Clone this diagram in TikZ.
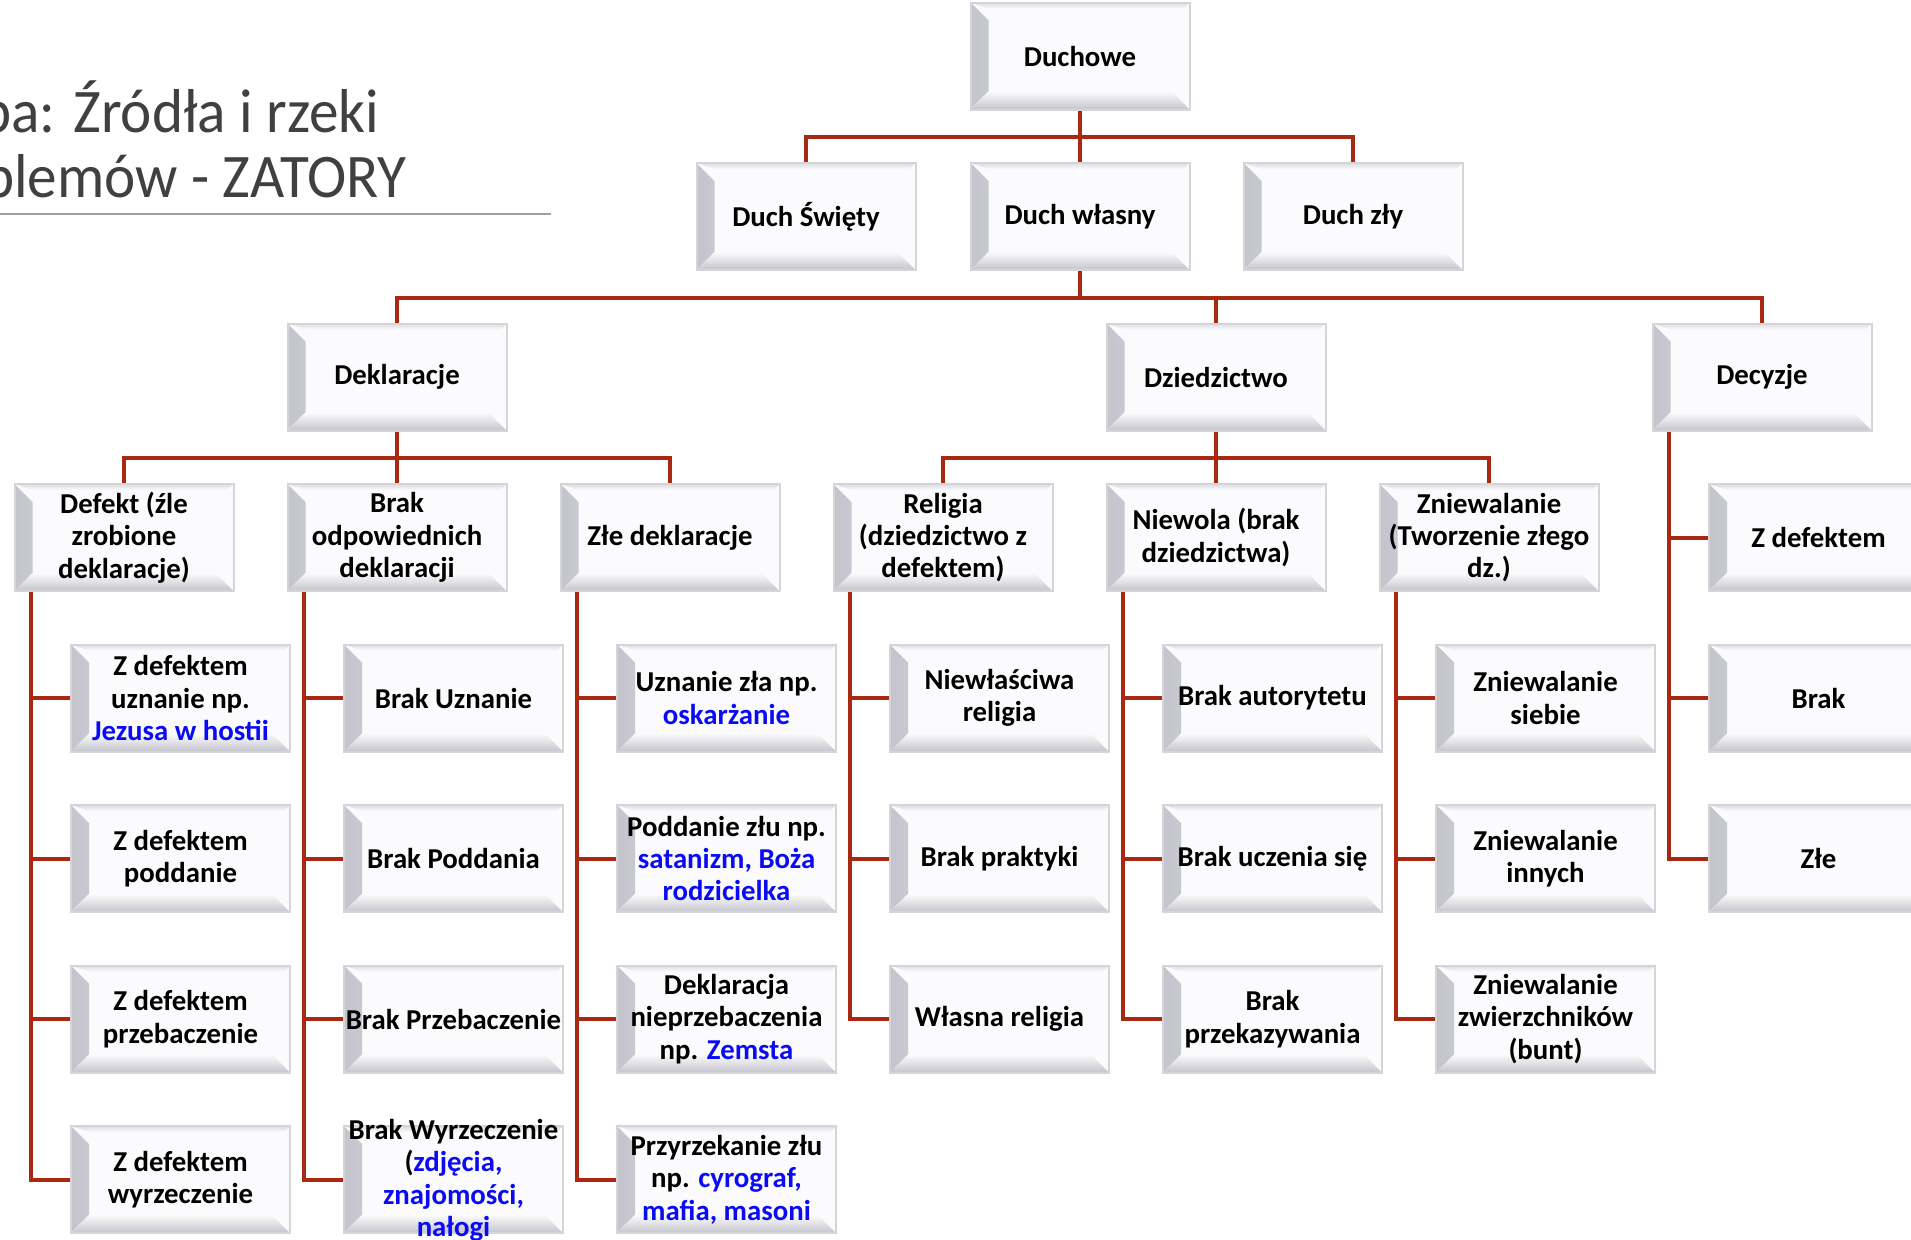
\documentclass[tikz,border=0pt]{standalone}
\usepackage{fontspec}
\setmainfont{Carlito}
\newfontfamily\boxfont{Carlito}
\newfontfamily\titlefont[FakeStretch=0.955]{Carlito}
\usetikzlibrary{calc}
\definecolor{conncol}{RGB}{168,40,18}
\definecolor{boxfill}{RGB}{251,251,253}
\definecolor{boxedge}{RGB}{212,212,217}
\definecolor{bevdark}{RGB}{196,196,205}
\definecolor{titlecol}{RGB}{64,64,64}
\definecolor{rulecol}{RGB}{160,160,160}
\definecolor{linkblue}{RGB}{10,10,245}
\newcommand\bl[1]{\textcolor{linkblue}{#1}}
\newcommand\bevelpic{%
  \fill[left color=bevdark, right color=boxfill]
    (path picture bounding box.north west)
    -- ([shift={(9pt,-9pt)}]path picture bounding box.north west)
    -- ([shift={(9pt,9pt)}]path picture bounding box.south west)
    -- (path picture bounding box.south west) -- cycle;
  \fill[bottom color=bevdark, top color=boxfill]
    (path picture bounding box.south west)
    -- ([shift={(9pt,9pt)}]path picture bounding box.south west)
    -- ([shift={(-9pt,9pt)}]path picture bounding box.south east)
    -- (path picture bounding box.south east) -- cycle;
  \fill[top color=bevdark!60, bottom color=boxfill]
    (path picture bounding box.north west)
    -- ([shift={(9pt,-3pt)}]path picture bounding box.north west)
    -- ([shift={(-3pt,-3pt)}]path picture bounding box.north east)
    -- (path picture bounding box.north east) -- cycle;
}
\tikzset{
  box/.style={rectangle, minimum width=109.5pt, minimum height=53.5pt,
    inner sep=0pt, fill=boxfill, draw=boxedge, line width=1pt,
    align=center, text=black,
    font=\boxfont\bfseries\fontsize{14.4}{16.2}\selectfont,
    path picture={\bevelpic}},
  conn/.style={draw=conncol, line width=2pt, line join=miter},
  titletext/.style={inner sep=0pt, text=titlecol,
    font=\titlefont\fontsize{31}{31}\selectfont}
}
\begin{document}
\begin{tikzpicture}[x=0.5pt,y=-0.5pt]
\useasboundingbox (0,0) rectangle (1911,1239);
\clip (0,0) rectangle (1911,1239);
\fill[white] (0,0) rectangle (1911,1239);

% title
\coordinate (ty1) at (0,132);
\node[titletext, anchor=base east] (t2) at (407,197) {problemów - ZATORY};
\node[titletext, anchor=base west] (t1) at (t2.base west |- ty1) {Mapa: Źródła i rzeki};
\draw[rulecol, line width=1pt] (0,214) -- (551,214);

% top levels
\node[box] (d0) at (1080,56) {Duchowe};
\node[box] (s1) at (806,216.5) {Duch Święty};
\node[box] (s2) at (1080,216.5) {Duch własny};
\node[box] (s3) at (1353,216.5) {Duch zły};
\node[box] (k1) at (397,377) {Deklaracje};
\node[box] (k2) at (1216,377) {Dziedzictwo};
\node[box] (k3) at (1762,377) {Decyzje};

% level 4
\node[box] (a1) at (124,537.5) {Defekt (źle\\zrobione\\deklaracje)};
\node[box] (a2) at (397,537.5) {Brak\\odpowiednich\\deklaracji};
\node[box] (a3) at (670,537.5) {Złe deklaracje};
\node[box] (a4) at (943,537.5) {Religia\\(dziedzictwo z\\defektem)};
\node[box] (a5) at (1216,537.5) {Niewola (brak\\dziedzictwa)};
\node[box] (a6) at (1489,537.5) {Zniewalanie\\(Tworzenie złego\\dz.)};

% Decyzje children
\node[box] (k3c1) at (1818.5,537.5) {Z defektem};
\node[box] (k3c2) at (1818.5,698) {Brak};
\node[box] (k3c3) at (1818.5,858.5) {Złe};

% Defekt children
\node[box] (a1c1) at (180.5,698) {Z defektem\\uznanie np.\\\bl{Jezusa w hostii}};
\node[box] (a1c2) at (180.5,858.5) {Z defektem\\poddanie};
\node[box] (a1c3) at (180.5,1019) {Z defektem\\przebaczenie};
\node[box] (a1c4) at (180.5,1179.5) {Z defektem\\wyrzeczenie};

% Brak children
\node[box] (a2c1) at (453.5,698) {Brak Uznanie};
\node[box] (a2c2) at (453.5,858.5) {Brak Poddania};
\node[box] (a2c3) at (453.5,1019) {Brak Przebaczenie};
\node[box] (a2c4) at (453.5,1179.5) {\raisebox{-9pt}{\smash{\begin{tabular}{@{}c@{}}Brak Wyrzeczenie\\(\bl{zdjęcia,}\\\bl{znajomości,}\\\bl{nałogi}\end{tabular}}}};

% Złe children
\node[box] (a3c1) at (726.5,698) {Uznanie zła np.\\\bl{oskarżanie}};
\node[box] (a3c2) at (726.5,858.5) {Poddanie złu np.\\\bl{satanizm, Boża}\\\bl{rodzicielka}};
\node[box] (a3c3) at (726.5,1019) {Deklaracja\\nieprzebaczenia\\np. \bl{Zemsta}};
\node[box] (a3c4) at (726.5,1179.5) {Przyrzekanie złu\\np. \bl{cyrograf,}\\\bl{mafia, masoni}};

% Religia children
\node[box] (a4c1) at (999.5,698) {Niewłaściwa\\religia};
\node[box] (a4c2) at (999.5,858.5) {Brak praktyki};
\node[box] (a4c3) at (999.5,1019) {Własna religia};

% Niewola children
\node[box] (a5c1) at (1272.5,698) {Brak autorytetu};
\node[box] (a5c2) at (1272.5,858.5) {Brak uczenia się};
\node[box] (a5c3) at (1272.5,1019) {Brak\\przekazywania};

% Zniewalanie children
\node[box] (a6c1) at (1545.5,698) {Zniewalanie\\siebie};
\node[box] (a6c2) at (1545.5,858.5) {Zniewalanie\\innych};
\node[box] (a6c3) at (1545.5,1019) {Zniewalanie\\zwierzchników\\(bunt)};

% connectors: Duchowe -> level 2
\path (d0.south) ++(0,26.5) coordinate (b0);
\draw[conn] (d0.south) -- (b0);
\draw[conn] (s1.north) |- (b0) -| (s3.north);
\draw[conn] (s2.north) -- (b0);

% Duch własny -> level 3
\path (s2.south) ++(0,26.5) coordinate (b1);
\draw[conn] (s2.south) -- (b1);
\draw[conn] (k1.north) |- (b1) -| (k3.north);
\draw[conn] (k2.north) -- (k2.north |- b1);

% Deklaracje -> level 4
\path (k1.south) ++(0,26.5) coordinate (b2);
\draw[conn] (k1.south) -- (b2);
\draw[conn] (a1.north) |- (b2) -| (a3.north);
\draw[conn] (a2.north) -- (a2.north |- b2);

% Dziedzictwo -> level 4
\path (k2.south) ++(0,26.5) coordinate (b3);
\draw[conn] (k2.south) -- (b3);
\draw[conn] (a4.north) |- (b3) -| (a6.north);
\draw[conn] (a5.north) -- (a5.north |- b3);

% side trees
\foreach \p/\n in {a1/4, a2/4, a3/4, a4/3, a5/3, a6/3, k3/3} {
  \coordinate (\p x) at ($(\p.south west)+(17.5,0)$);
  \draw[conn] (\p x) |- (\p c\n.west);
  \foreach \i in {1,...,\n} {
    \draw[conn] (\p x |- \p c\i.west) -- (\p c\i.west);
  }
}
\end{tikzpicture}
\end{document}
